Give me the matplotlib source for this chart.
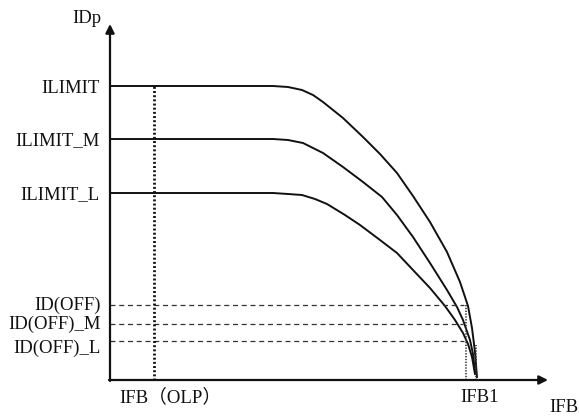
import matplotlib
matplotlib.use("Agg")
import matplotlib.pyplot as plt

# ---- data (schematic units: origin at axis corner) ----
level_labels = ["ILIMIT", "ILIMIT_M", "ILIMIT_L"]
level_values = [294, 241, 187]
off_labels = ["ID(OFF)", "ID(OFF)_M", "ID(OFF)_L"]
off_values = [75, 56, 39]
off_dash_end = [354, 353, 354]

curve_hi_x = [0, 163, 178, 192, 203, 213, 233, 253, 270, 287, 303, 320, 337, 350, 358, 362, 365, 367]
curve_hi_y = [294, 294, 293, 290, 285, 278, 262, 243, 226, 207, 184, 158, 128, 98, 74, 52, 28, 3]
curve_mid_x = [0, 163, 178, 193, 203, 213, 233, 253, 272, 287, 303, 320, 337, 347, 353, 360, 363, 365]
curve_mid_y = [241, 241, 240, 237, 232, 227, 213, 198, 183, 165, 143, 117, 90, 73, 60, 40, 26, 8]
curve_lo_x = [0, 163, 178, 192, 205, 217, 235, 250, 270, 287, 303, 320, 335, 345, 353, 358, 362, 365]
curve_lo_y = [187, 187, 186, 185, 181, 176, 165, 155, 140, 127, 110, 92, 74, 60, 47, 36, 23, 6]

ifb_olp = 44
ifb1_a = 356
ifb1_b = 366
ifb1_b_top = 35

fam = ["Liberation Serif", "Noto Sans CJK JP"]
fs = 13.5
col = "#111111"

fig = plt.figure(figsize=(5.79, 4.17), dpi=100)
ax = fig.add_axes([0, 0, 1, 1])
ax.set_xlim(-110, 469)
ax.set_ylim(-37, 380)
ax.axis("off")

# axes with arrows
ax.annotate("", xy=(0, 356), xytext=(0, -1),
            arrowprops=dict(arrowstyle="-|>", lw=1.6, color=col, mutation_scale=13,
                            shrinkA=0, shrinkB=0))
ax.annotate("", xy=(438, 0), xytext=(-1, 0),
            arrowprops=dict(arrowstyle="-|>", lw=1.6, color=col, mutation_scale=13,
                            shrinkA=0, shrinkB=0))

# curves
for cx, cy in [(curve_hi_x, curve_hi_y), (curve_mid_x, curve_mid_y), (curve_lo_x, curve_lo_y)]:
    ax.plot(cx, cy, color=col, lw=1.4, solid_joinstyle="round")

# dashed ID(OFF) lines
for v, e in zip(off_values, off_dash_end):
    ax.plot([0, e], [v, v], color="#333333", lw=0.9, ls=(0, (4, 3)))

# dotted verticals
ax.plot([ifb_olp, ifb_olp], [0, level_values[0]], color=col, lw=2.0, ls=(0, (0.7, 0.8)))
ax.plot([ifb1_a, ifb1_a], [0, off_values[0]], color="#333333", lw=1.2, ls=(0, (0.8, 0.9)))
ax.plot([ifb1_b, ifb1_b], [0, ifb1_b_top], color="#333333", lw=1.2, ls=(0, (0.8, 0.9)))

# labels
for lab, v in zip(level_labels, level_values):
    ax.text(-10, v - 2, lab, ha="right", va="center", fontsize=fs, family=fam, color=col)
off_text_y = [75, 56, 32]
for lab, v in zip(off_labels, off_text_y):
    ax.text(-9, v, lab, ha="right", va="center", fontsize=fs, family=fam, color=col)

ax.text(-9, 362, "IDp", ha="right", va="center", fontsize=fs, family=fam, color=col)
ax.text(60, -17, "IFB（OLP）", ha="center", va="center", fontsize=fs, family=fam, color=col)
ax.text(370, -18, "IFB1", ha="center", va="center", fontsize=fs, family=fam, color=col)
ax.text(468, -28, "IFB", ha="right", va="center", fontsize=fs, family=fam, color=col)

fig.savefig("out.png", dpi=100)
